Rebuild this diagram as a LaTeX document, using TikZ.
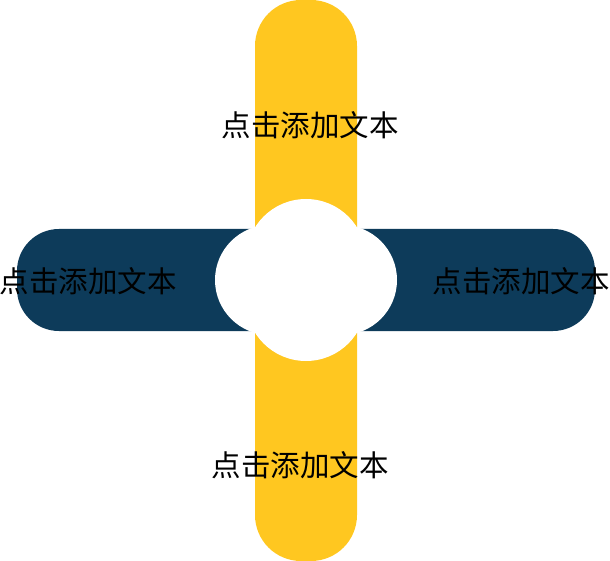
\documentclass[tikz,border=0pt]{standalone}
\usepackage{fontspec}
\newfontfamily\cjk{Noto Sans CJK SC}
\definecolor{barYellow}{RGB}{255,199,32}
\definecolor{barBlue}{RGB}{13,59,90}
\tikzset{
  lbl/.style={font=\cjk\fontsize{29.5}{31}\selectfont, text=black, inner sep=0pt, anchor=center},
  hole/.style={fill=white, draw=none}
}
\begin{document}
\begin{tikzpicture}[x=1pt,y=-1pt]
\useasboundingbox (0,0) rectangle (610,561);
% horizontal bar
\fill[barBlue, rounded corners=42pt] (17,229) rectangle (595,331);
% vertical bar
\fill[barYellow, rounded corners=46pt] (255,0) rectangle (357,561);
% central white flower
\fill[hole] (306,259) circle (60);
\fill[hole] (306,301) circle (60);
\fill[hole] (270,280) circle (55);
\fill[hole] (342,280) circle (55);
% labels
\node[lbl] (top) at (310,125) {点击添加文本};
\node[lbl] (bottom) at (300,465) {点击添加文本};
\node[lbl] (left) at (88,281) {点击添加文本};
\node[lbl] (right) at (521,281) {点击添加文本};
\end{tikzpicture}
\end{document}
